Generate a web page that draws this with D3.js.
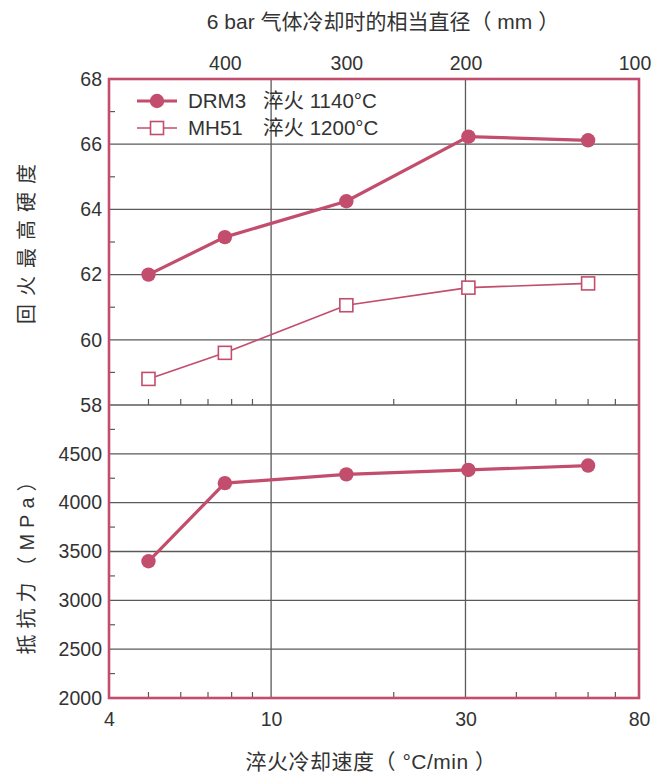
<!DOCTYPE html>
<html><head><meta charset="utf-8">
<script src="https://cdn.jsdelivr.net/npm/d3@7"></script>
<style>
body{margin:0;background:#fff;}
text{font-family:"Liberation Sans","Noto Sans CJK SC",Arial,sans-serif;fill:#333;}
</style></head>
<body>
<svg id="c" width="668" height="775"></svg>
<script>
// ---- data ----
const coolingRates = [5, 7.7, 15.3, 30.5, 60];          // °C/min
const drm3Hardness = [62.0, 63.15, 64.25, 66.23, 66.12]; // HRC
const mh51Hardness = [58.8, 59.6, 61.06, 61.6, 61.73];   // HRC
const drm3Strength = [3400, 4200, 4290, 4335, 4380];     // MPa
const xTickValues = [4, 10, 30, 80];
const xMinorTicks = [5, 6, 7, 8, 9, 20, 40, 50, 60, 70];
const topLabels = ["400", "300", "200", "100"];
const topLabelRates = [7.7, 15.3, 30, 78];
const hardTicks = [58, 60, 62, 64, 66, 68];
const hardMinor = [59, 61, 63, 65, 67];
const strTicks = [2000, 2500, 3000, 3500, 4000, 4500];
const strMinor = [2250, 2750, 3250, 3750, 4250, 4750];
const legendItems = [
  {name: "DRM3", note: "淬火 1140°C"},
  {name: "MH51", note: "淬火 1200°C"}
];

// ---- layout ----
const L = 109, R = 639, T = 79, M = 405, B = 698;
const red = "#c24d6d", grid = "#5a5a5a";
const svg = d3.select("#c");

const x = d3.scaleLog().domain([4, 80]).range([L, R]);
const yH = d3.scaleLinear().domain([58, 68]).range([M, T]);
const yS = d3.scaleLinear().domain([2000, 5000]).range([B, M]);

// grid lines
const g = svg.append("g");
[10, 30].forEach(v => g.append("line").attr("x1", x(v)).attr("x2", x(v)).attr("y1", T).attr("y2", B)
  .attr("stroke", grid).attr("stroke-width", 1.3));
hardTicks.slice(0, -1).forEach(v => g.append("line").attr("x1", L).attr("x2", R).attr("y1", yH(v)).attr("y2", yH(v))
  .attr("stroke", grid).attr("stroke-width", 1.3));
strTicks.slice(1).forEach(v => g.append("line").attr("x1", L).attr("x2", R).attr("y1", yS(v)).attr("y2", yS(v))
  .attr("stroke", grid).attr("stroke-width", 1.3));

// minor ticks
const tk = 6;
xMinorTicks.forEach(v => {
  g.append("line").attr("x1", x(v)).attr("x2", x(v)).attr("y1", B).attr("y2", B - tk).attr("stroke", grid).attr("stroke-width", 1.2);
  g.append("line").attr("x1", x(v)).attr("x2", x(v)).attr("y1", M).attr("y2", M - tk).attr("stroke", grid).attr("stroke-width", 1.2);
});
hardMinor.forEach(v => g.append("line").attr("x1", L).attr("x2", L + tk).attr("y1", yH(v)).attr("y2", yH(v)).attr("stroke", grid).attr("stroke-width", 1.2));
strMinor.forEach(v => g.append("line").attr("x1", L).attr("x2", L + tk).attr("y1", yS(v)).attr("y2", yS(v)).attr("stroke", grid).attr("stroke-width", 1.2));

// axes labels via d3 axes
const axStyle = sel => {
  sel.select(".domain").remove();
  sel.selectAll(".tick line").remove();
  sel.selectAll("text").attr("font-size", 19.5).attr("fill", "#333").style("font-family", '"Liberation Sans",Arial,sans-serif');
};
svg.append("g").attr("transform", `translate(0,${B})`)
  .call(d3.axisBottom(x).tickValues(xTickValues).tickFormat(d3.format("d")).tickSize(0).tickPadding(14)).call(axStyle);
svg.append("g").attr("transform", `translate(0,${T})`)
  .call(d3.axisTop(x).tickValues(topLabelRates).tickFormat((d, i) => topLabels[i]).tickSize(0).tickPadding(9)).call(axStyle);
svg.append("g").attr("transform", `translate(${L},0)`)
  .call(d3.axisLeft(yH).tickValues(hardTicks).tickFormat(d3.format("d")).tickSize(0).tickPadding(7)).call(axStyle);
svg.append("g").attr("transform", `translate(${L},0)`)
  .call(d3.axisLeft(yS).tickValues(strTicks).tickFormat(d3.format("d")).tickSize(0).tickPadding(7)).call(axStyle);

// frame
svg.append("rect").attr("x", L).attr("y", T).attr("width", R - L).attr("height", B - T)
  .attr("fill", "none").attr("stroke", red).attr("stroke-width", 2.6);

// series
const ptsH1 = coolingRates.map((r, i) => [x(r), yH(drm3Hardness[i])]);
const ptsH2 = coolingRates.map((r, i) => [x(r), yH(mh51Hardness[i])]);
const ptsS = coolingRates.map((r, i) => [x(r), yS(drm3Strength[i])]);
const line = d3.line();
svg.append("path").attr("d", line(ptsH2)).attr("fill", "none").attr("stroke", red).attr("stroke-width", 1.6);
svg.append("path").attr("d", line(ptsH1)).attr("fill", "none").attr("stroke", red).attr("stroke-width", 3.2);
svg.append("path").attr("d", line(ptsS)).attr("fill", "none").attr("stroke", red).attr("stroke-width", 3.2);
svg.selectAll(".sq").data(ptsH2).enter().append("rect")
  .attr("x", d => d[0] - 6.5).attr("y", d => d[1] - 6.5).attr("width", 13).attr("height", 13)
  .attr("fill", "#fff").attr("stroke", red).attr("stroke-width", 1.6);
svg.selectAll(".c1").data(ptsH1.concat(ptsS)).enter().append("circle")
  .attr("cx", d => d[0]).attr("cy", d => d[1]).attr("r", 7.2).attr("fill", red);

// legend
const lg = svg.append("g");
legendItems.forEach((it, i) => {
  const yy = 101 + i * 27;
  lg.append("line").attr("x1", 137).attr("x2", 177).attr("y1", yy).attr("y2", yy).attr("stroke", red).attr("stroke-width", i === 0 ? 3.2 : 1.6);
  if (i === 0) lg.append("circle").attr("cx", 157).attr("cy", yy).attr("r", 7.2).attr("fill", red);
  else lg.append("rect").attr("x", 150.5).attr("y", yy - 6.5).attr("width", 13).attr("height", 13).attr("fill", "#fff").attr("stroke", red).attr("stroke-width", 1.6);
  lg.append("text").attr("x", 188).attr("y", yy + 7).attr("font-size", 20.5).text(it.name);
  lg.append("text").attr("x", 263).attr("y", yy + 7).attr("font-size", 20.5).text(it.note);
});

// titles
svg.append("text").attr("x", 383).attr("y", 29).attr("text-anchor", "middle").attr("font-size", 21)
  .attr("xml:space", "preserve").text("6 bar 气体冷却时的相当直径（ mm ）");
svg.append("text").attr("x", 371).attr("y", 769).attr("text-anchor", "middle").attr("font-size", 21)
  .attr("letter-spacing", 0.5).text("淬火冷却速度（ °C/min ）");
svg.append("text").attr("transform", "translate(34,240) rotate(-90)").attr("text-anchor", "middle")
  .attr("font-size", 20).attr("letter-spacing", 8).text("回火最高硬度");
svg.append("text").attr("transform", "translate(34,560) rotate(-90)").attr("text-anchor", "middle")
  .attr("font-size", 20).attr("letter-spacing", 6).text("抵抗力（MPa）");
</script>
</body></html>
